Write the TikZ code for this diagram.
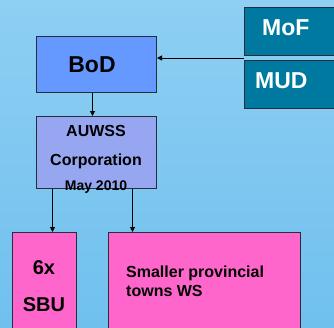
\documentclass[tikz,border=0pt]{standalone}
\usepackage{fontspec}
\setmainfont{Liberation Sans}
\usetikzlibrary{arrows.meta}
\usetikzlibrary{calc}
\definecolor{skytop}{RGB}{142,207,243}
\definecolor{skybot}{RGB}{112,192,238}
\definecolor{bodblue}{RGB}{102,153,255}
\definecolor{corpblue}{RGB}{150,166,240}
\definecolor{govteal}{RGB}{0,121,161}
\definecolor{unitpink}{RGB}{255,102,204}
\definecolor{edgegray}{RGB}{40,45,60}
\newcommand{\fsz}[1]{\fontsize{#1}{#1}\selectfont}
\tikzset{
  orgbox/.style={draw=edgegray, line width=1pt, inner sep=0pt, anchor=north west},
  labl/.style={inner sep=0pt, anchor=base},
  link/.style={line width=1pt, -{Triangle[length=5pt,width=5pt]}}
}
\begin{document}
\begin{tikzpicture}[x=1pt,y=-1pt]
            \useasboundingbox (0,0) rectangle (334,327);
            \clip (0,0) rectangle (334,327);
            \shade[top color=skytop, bottom color=skybot] (0,0) rectangle (334,327);

            % top
            \node[orgbox, fill=bodblue, minimum width=120pt, minimum height=56pt] (bod) at (36,36) {};
            \node[orgbox, fill=govteal, minimum width=100pt, minimum height=48pt] (mof) at (244,7) {};
            \node[orgbox, fill=govteal, minimum width=100pt, minimum height=48pt] (mud) at (244,60) {};
            \coordinate (gov) at ($(mof.south west)!0.5!(mud.north west)$);

            \node[labl, font=\bfseries\fsz{23}] (bodtext) at (92,72.7) {BoD};
            \node[labl, anchor=base west, text=white, font=\bfseries\fsz{23}] (moftext) at (262,35.7) {MoF};
            \node[labl, anchor=base west, text=white, font=\bfseries\fsz{23}] (mudtext) at (255,88.3) {MUD};

            % middle
            \node[orgbox, fill=corpblue, minimum width=120pt, minimum height=72pt] (corp) at (36,116) {};
            \node[labl, font=\bfseries\fsz{16}] (corp1) at (96,136.7) {AUWSS};
            \node[labl, font=\bfseries\fsz{16}] (corp2) at (96,165.7) {Corporation};
            \node[labl, font=\bfseries\fsz{14}] (corp3) at (96,190) {May 2010};

            % bottom
            \node[orgbox, fill=unitpink, minimum width=64pt, minimum height=120pt] (sbu) at (12,232) {};
            \node[orgbox, fill=unitpink, minimum width=192pt, minimum height=120pt] (towns) at (108,232) {};
            \node[labl, font=\bfseries\fsz{20}] (sbu1) at (44,274) {6x};
            \node[labl, font=\bfseries\fsz{20}] (sbu2) at (44,311) {SBU};
            \node[labl, anchor=base west, font=\bfseries\fsz{16}] (towns1) at (126,277.3) {Smaller provincial};
            \node[labl, anchor=base west, font=\bfseries\fsz{16}] (towns2) at (126,296) {towns WS};

            % links
            \draw[link] (gov) -- (gov -| bod.east);
            \draw[link] ([xshift=-4pt]bod.south) -- ([xshift=-4pt]corp.north);
            \draw[link] ([xshift=-44pt]corp.south) -- ([xshift=-44pt]corp.south |- sbu.north);
            \draw[link] ([xshift=36pt]corp.south) -- ([xshift=36pt]corp.south |- towns.north);
\end{tikzpicture}
\end{document}
